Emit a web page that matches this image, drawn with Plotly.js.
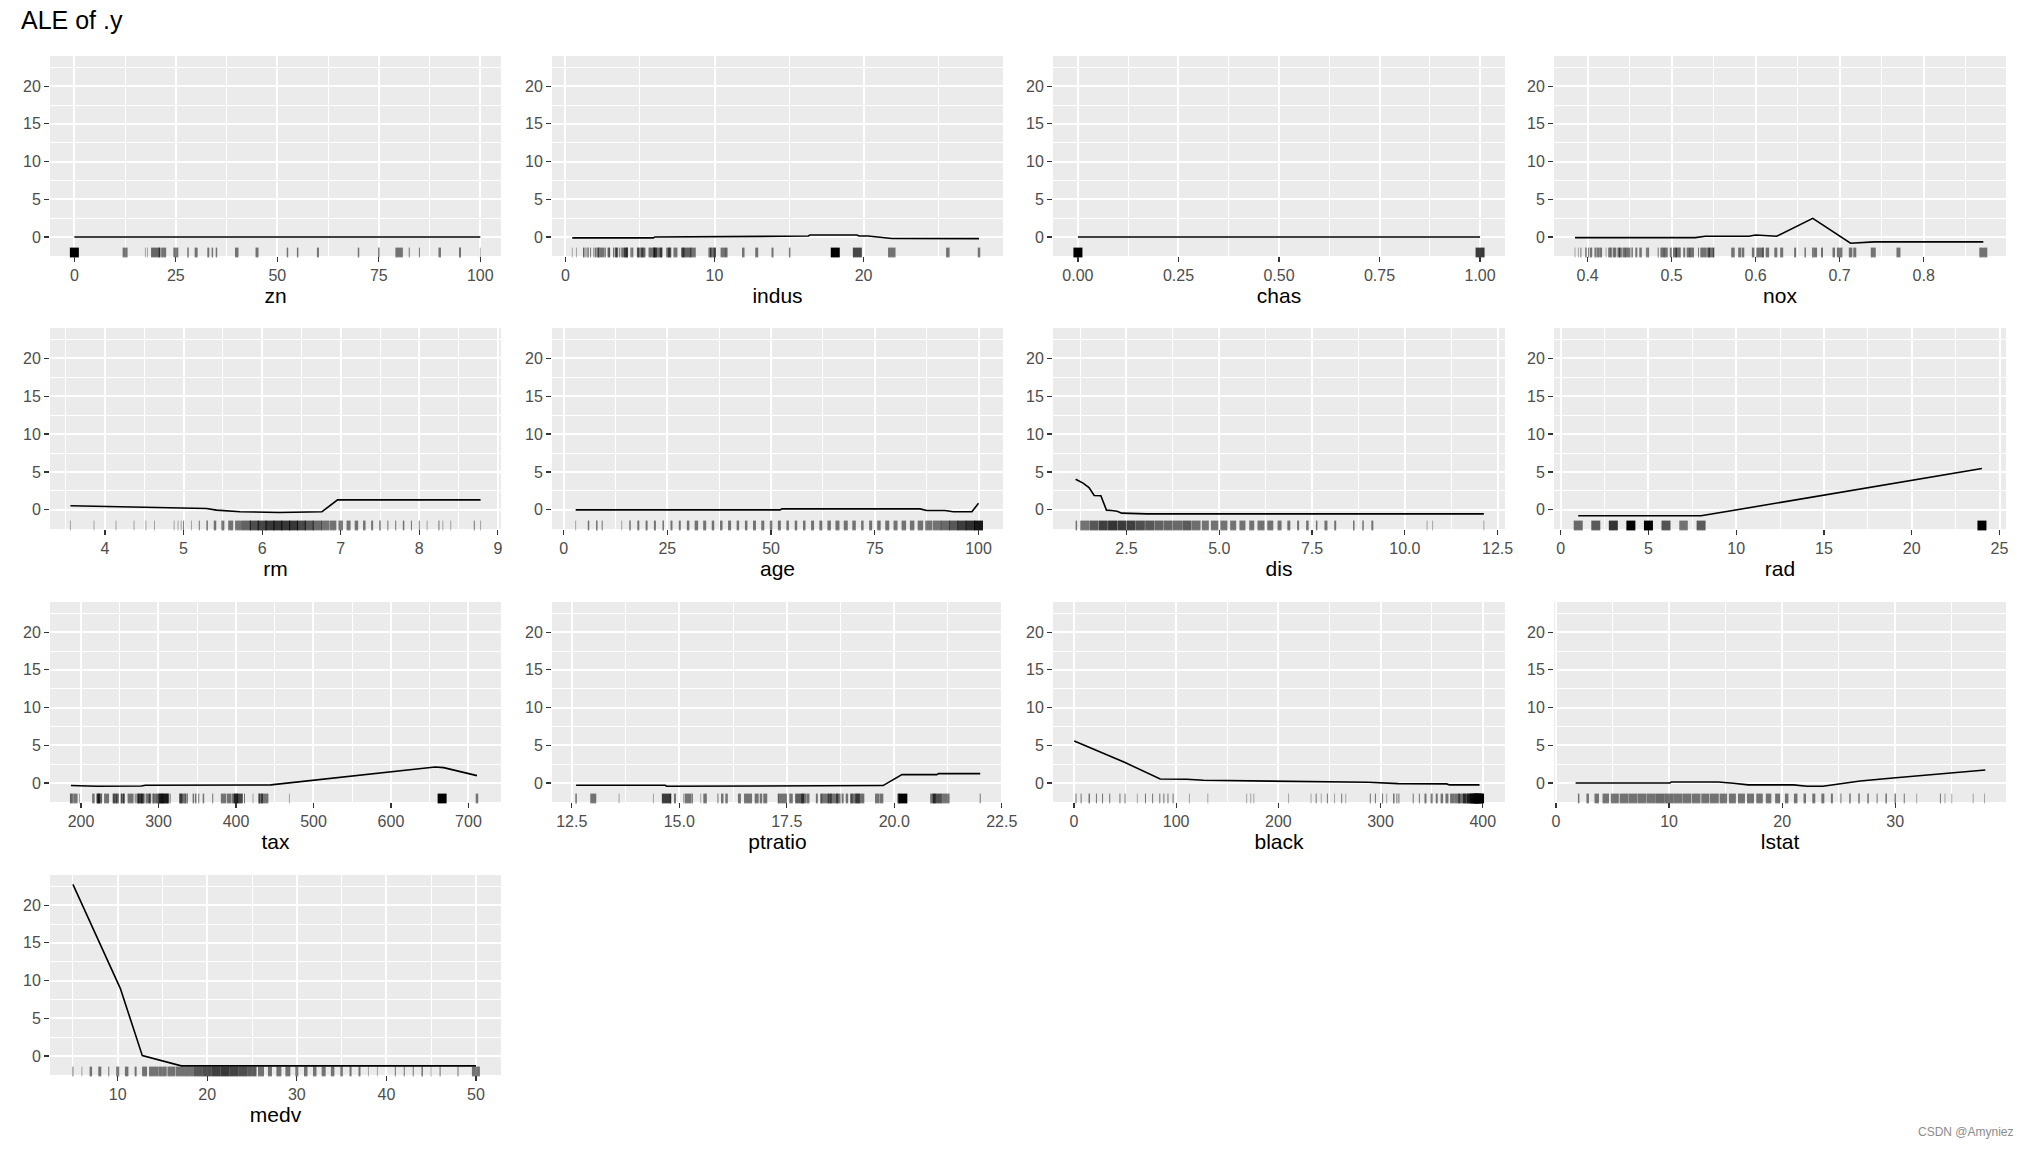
<!DOCTYPE html>
<html>
<head>
<meta charset="utf-8">
<script src="https://cdn.plot.ly/plotly-3.0.1.min.js"></script>
<style>
html,body{margin:0;padding:0;background:#ffffff;}
#chart{width:2028px;height:1149px;}
</style>
</head>
<body>
<div id="chart"></div>
<script>
// ---------------- DATA ----------------
const features = ['zn','indus','chas','nox','rm','age','dis','rad','tax','ptratio','black','lstat','medv'];

// ALE curves
const zn_x = [0, 100];
const zn_y = [0, 0];
const indus_x = [0.46, 5.9, 6.0, 14.5, 14.6, 16.3, 16.4, 19.55, 19.7, 20.3, 21.2, 21.9, 27.74];
const indus_y = [-0.13, -0.13, 0.0, 0.0, 0.09, 0.13, 0.26, 0.26, 0.13, 0.13, -0.04, -0.2, -0.22];
const chas_x = [0, 1];
const chas_y = [0, 0];
const nox_x = [0.385, 0.528, 0.540, 0.592, 0.600, 0.607, 0.615, 0.625, 0.668, 0.713, 0.741, 0.871];
const nox_y = [-0.09, -0.09, 0.09, 0.09, 0.26, 0.22, 0.09, 0.09, 2.47, -0.84, -0.66, -0.66];
const rm_x = [3.56, 4.0, 4.44, 5.0, 5.29, 5.42, 5.72, 6.22, 6.41, 6.76, 6.96, 8.78];
const rm_y = [0.53, 0.44, 0.35, 0.22, 0.18, -0.04, -0.26, -0.35, -0.35, -0.26, 1.32, 1.32];
const age_x = [2.9, 52.2, 52.6, 85.9, 87.5, 91.9, 93.9, 98.4, 100];
const age_y = [0, 0, 0.13, 0.13, -0.09, -0.09, -0.26, -0.26, 0.88];
const dis_x = [1.13, 1.33, 1.49, 1.63, 1.81, 1.96, 2.10, 2.25, 2.37, 3.04, 12.13];
const dis_y = [4.04, 3.52, 2.95, 1.89, 1.85, -0.04, -0.09, -0.18, -0.44, -0.53, -0.53];
const rad_x = [1, 2, 3, 4, 5, 6, 7, 8, 24];
const rad_y = [-0.79, -0.79, -0.79, -0.79, -0.79, -0.79, -0.79, -0.79, 5.45];
const tax_x = [187, 220, 278, 283, 445, 500, 601, 657, 668, 711];
const tax_y = [-0.35, -0.44, -0.40, -0.31, -0.26, 0.35, 1.46, 2.12, 2.03, 0.97];
const ptratio_x = [12.6, 14.67, 14.71, 19.21, 19.25, 19.74, 20.18, 20.99, 21.03, 22.0];
const ptratio_y = [-0.31, -0.31, -0.44, -0.44, -0.35, -0.35, 1.1, 1.1, 1.24, 1.24];
const black_x = [0.32, 50, 84.4, 110.5, 126.8, 162.7, 201.8, 247.4, 288.2, 317.5, 364.8, 367.4, 396.9];
const black_y = [5.56, 2.7, 0.53, 0.49, 0.35, 0.31, 0.22, 0.13, 0.09, -0.09, -0.13, -0.26, -0.26];
const lstat_x = [1.73, 10.08, 10.2, 14.35, 15.68, 17.0, 21.0, 22.2, 23.6, 25.3, 26.9, 29.8, 37.97];
const lstat_y = [0, 0, 0.13, 0.13, -0.04, -0.26, -0.26, -0.44, -0.44, -0.13, 0.26, 0.66, 1.72];
const medv_x = [5, 10.3, 12.75, 17.1, 50];
const medv_y = [22.76, 8.93, 0.04, -1.32, -1.32];

// Rug: observed feature values (or small bins) and how many rows fall there
const zn_rug = [0,12.5,17.5,18,20,21,22,25,28,30,33,34,35,40,45,52.5,55,60,70,75,80,82.5,85,90,95,100];
const zn_rugN = [372,10,1,1,21,4,10,10,3,6,4,3,3,7,6,3,3,4,3,3,15,2,2,5,4,1];
const indus_rug = [0.46,0.74,1.22,1.25,1.38,1.52,1.69,1.91,2.03,2.18,2.24,2.46,2.68,2.89,2.95,3.24,3.41,3.44,3.64,3.75,3.97,4.05,4.15,4.39,4.49,4.86,4.93,5.13,5.19,5.32,5.64,5.86,5.96,6.06,6.2,6.41,6.91,6.96,7.07,7.38,7.87,8.14,8.56,9.69,9.9,10.01,10.59,10.81,11.93,12.83,13.89,15.04,18.1,19.58,21.89,25.65,27.74];
const indus_rugN = [1,1,2,2,2,3,2,2,3,5,3,10,2,4,3,3,4,6,2,1,12,7,3,2,4,4,6,6,6,3,4,10,3,5,18,5,9,5,2,8,7,22,11,6,12,4,11,4,5,6,4,3,132,30,15,7,5];
const chas_rug = [0, 1];
const chas_rugN = [471, 35];
const nox_rug = [0.385,0.389,0.392,0.398,0.401,0.404,0.409,0.411,0.413,0.416,0.422,0.426,0.428,0.431,0.433,0.437,0.439,0.443,0.445,0.448,0.453,0.458,0.463,0.47,0.472,0.484,0.489,0.493,0.499,0.504,0.507,0.51,0.515,0.52,0.524,0.532,0.538,0.544,0.547,0.55,0.573,0.581,0.585,0.597,0.605,0.609,0.614,0.624,0.631,0.647,0.659,0.668,0.671,0.679,0.693,0.7,0.713,0.718,0.74,0.77,0.871];
const nox_rugN = [1,1,2,3,2,5,3,2,5,4,1,5,3,4,4,5,6,5,2,10,3,4,5,2,4,2,8,8,4,8,8,3,4,7,9,2,13,6,11,3,7,6,5,5,14,3,7,6,6,4,3,3,7,4,5,11,7,6,10,8,16];
const rm_rug = [3.56,3.86,4.14,4.37,4.52,4.63,4.88,4.93,4.97,5.0,5.1,5.2,5.3,5.4,5.5,5.6,5.7,5.8,5.9,6.0,6.1,6.2,6.3,6.4,6.5,6.6,6.7,6.8,6.9,7.0,7.1,7.2,7.3,7.4,7.5,7.6,7.7,7.8,7.9,8.0,8.1,8.25,8.3,8.4,8.7,8.78];
const rm_rugN = [1,1,1,1,1,1,1,1,1,2,1,2,3,5,6,10,14,22,28,32,36,38,36,36,30,24,20,16,14,9,8,7,5,4,3,2,2,3,2,2,1,2,1,1,2,1];
const age_rug = [2.9,6,8,9.3,14,16,18,20,22,24,26,28,30,32,34,36,38,40,42,44,46,48,50,52,54,56,58,60,62,64,66,68,70,72,74,76,78,80,82,84,86,88,90,92,94,96,98,100];
const age_rugN = [1,3,3,2,1,3,4,4,4,3,4,4,5,7,6,5,5,6,5,5,6,6,5,6,5,5,5,6,6,7,8,8,7,5,6,7,8,8,9,9,11,14,17,20,25,34,40,60];
const dis_rug = [1.15,1.375,1.625,1.875,2.125,2.375,2.625,2.875,3.125,3.375,3.625,3.875,4.125,4.375,4.625,4.875,5.125,5.375,5.625,5.875,6.125,6.375,6.625,6.875,7.125,7.375,7.625,7.875,8.125,8.625,8.875,9.125,10.6,10.75,12.13];
const dis_rugN = [3,18,25,33,38,35,33,27,25,22,21,20,24,19,14,15,14,12,12,10,14,12,8,6,4,5,3,6,4,3,3,4,1,1,1];
const rad_rug = [1,2,3,4,5,6,7,8,24];
const rad_rugN = [20,24,38,110,115,26,17,24,132];
const tax_rug = [187,188,193,198,216,222,223,224,226,233,241,242,243,245,247,252,254,255,264,270,273,276,277,279,281,284,287,289,293,296,300,304,305,307,311,313,315,329,330,334,335,337,345,348,352,358,370,384,391,398,402,403,411,422,430,432,437,469,666,711];
const tax_rugN = [1,7,8,1,5,7,5,10,1,10,1,2,4,6,6,2,8,3,12,2,5,9,11,4,4,2,8,5,3,8,7,14,3,40,7,1,2,6,10,3,2,3,3,3,2,3,2,11,8,12,3,30,2,1,3,9,15,1,132,5];
const ptratio_rug = [12.6,13.0,13.6,14.4,14.7,14.8,14.9,15.1,15.2,15.3,15.5,15.6,15.9,16.0,16.1,16.4,16.6,16.8,16.9,17.0,17.3,17.4,17.6,17.8,17.9,18.0,18.2,18.3,18.4,18.5,18.6,18.7,18.8,18.9,19.0,19.1,19.2,19.6,19.7,20.1,20.2,20.9,21.0,21.1,21.2,22.0];
const ptratio_rugN = [3,12,1,1,34,3,4,1,13,3,1,7,2,5,5,6,16,8,5,8,1,18,7,23,11,5,4,4,16,8,17,9,4,5,5,17,19,8,8,5,140,11,27,1,15,2];
const black_rug = [2,7,15,22,28,35,45,50,62,70,77,84,88,92,97,113,131,169,173,176,210,232,237,242,248,255,262,266,290,295,302,306,313,316,318,332,338,344,350,355,360,365,370,375,380,385,389,392,394,395.5,396.9];
const black_rugN = [2,2,3,2,2,2,2,2,1,2,2,2,2,2,2,1,1,1,1,1,1,1,2,1,2,1,2,1,2,2,2,1,3,2,2,2,2,4,4,4,5,6,8,12,16,25,30,40,45,60,121];
const lstat_rug = [2.0,2.8,3.6,4.4,5.2,6.0,6.8,7.6,8.4,9.2,10.0,10.8,11.6,12.4,13.2,14.0,14.8,15.6,16.4,17.2,18.0,18.8,19.6,20.4,21.2,22.0,22.8,23.6,24.4,25.2,26.0,26.8,27.6,28.4,29.2,30.0,30.8,31.9,34.0,34.4,35.0,36.9,37.9];
const lstat_rugN = [3,5,9,13,16,17,18,17,18,20,19,18,17,17,16,18,15,14,14,14,13,11,10,7,7,5,6,6,4,2,3,3,3,2,3,3,2,1,2,1,1,1,1];
const medv_rug = [5,6,7,8,9,10,11,12,13,14,15,16,17,18,19,20,21,22,23,24,25,26,27,28,29,30,31,32,33,34,35,36,37,38,39,41,42,43,44,45,46,48,50];
const medv_rugN = [2,1,5,6,2,6,7,4,10,18,17,16,18,18,25,28,33,36,32,28,24,12,8,10,10,6,7,7,8,7,5,4,4,1,1,2,2,2,3,1,2,2,16];

const yTickVals = [0, 5, 10, 15, 20];

// ---------------- STYLE / LAYOUT SETTINGS ----------------
const curves = {
  zn:[zn_x,zn_y,zn_rug,zn_rugN], indus:[indus_x,indus_y,indus_rug,indus_rugN],
  chas:[chas_x,chas_y,chas_rug,chas_rugN], nox:[nox_x,nox_y,nox_rug,nox_rugN],
  rm:[rm_x,rm_y,rm_rug,rm_rugN], age:[age_x,age_y,age_rug,age_rugN],
  dis:[dis_x,dis_y,dis_rug,dis_rugN], rad:[rad_x,rad_y,rad_rug,rad_rugN],
  tax:[tax_x,tax_y,tax_rug,tax_rugN], ptratio:[ptratio_x,ptratio_y,ptratio_rug,ptratio_rugN],
  black:[black_x,black_y,black_rug,black_rugN], lstat:[lstat_x,lstat_y,lstat_rug,lstat_rugN],
  medv:[medv_x,medv_y,medv_rug,medv_rugN]
};
// axis ranges (ggplot expanded limits) and tick spacing
const axisCfg = {
  zn:{range:[-6,105.1], tick0:0, dtick:25, fmt:''},
  indus:{range:[-0.9,29.35], tick0:0, dtick:10, fmt:''},
  chas:{range:[-0.062,1.062], tick0:0, dtick:0.25, fmt:'.2f'},
  nox:{range:[0.36,0.898], tick0:0, dtick:0.1, fmt:'.1f'},
  rm:{range:[3.30,9.04], tick0:0, dtick:1, fmt:''},
  age:{range:[-2.8,105.9], tick0:0, dtick:25, fmt:''},
  dis:{range:[0.52,12.7], tick0:0, dtick:2.5, fmt:'.1f'},
  rad:{range:[-0.38,25.37], tick0:0, dtick:5, fmt:''},
  tax:{range:[160,742], tick0:0, dtick:100, fmt:''},
  ptratio:{range:[12.04,22.53], tick0:0, dtick:2.5, fmt:'.1f'},
  black:{range:[-20.5,421.8], tick0:0, dtick:100, fmt:''},
  lstat:{range:[-0.18,39.8], tick0:0, dtick:10, fmt:''},
  medv:{range:[2.44,52.8], tick0:0, dtick:10, fmt:''}
};
const yRange = [-2.53, 24.0];

const W = 2028, H = 1149;
const colPx = [[50,501],[552,1003],[1053,1505],[1554,2006]];
const rowPx = [[56,256],[328,529],[602,802],[875,1075]];
const FONT = 'Liberation Sans, Arial, sans-serif';
const rugLen = 7;      // px
const rugAlpha = 0.3;
const jitterPx = 9;

const traces = [];
const layout = {
  width: W, height: H,
  margin: {l:0, r:0, t:0, b:0, pad:0},
  paper_bgcolor: '#FFFFFF',
  plot_bgcolor: '#EBEBEB',
  showlegend: false,
  font: {family: FONT, color: '#000000'},
  title: {
    text: 'ALE of .y',
    font: {family: FONT, size: 25, color: '#000000'},
    xref: 'container', yref: 'container',
    x: 21/W, xanchor: 'left',
    y: 1 - 11/H, yanchor: 'top'
  },
  annotations: [{
    text: 'CSDN @Amyniez', xref: 'paper', yref: 'paper',
    x: 2016/W, xanchor: 'right', y: 1 - 1132/H, yanchor: 'middle',
    showarrow: false, font: {family: FONT, size: 12, color: '#8c8c8c'}
  }]
};

features.forEach((f, i) => {
  const r = Math.floor(i / 4), c = i % 4;
  const sfx = i === 0 ? '' : String(i + 1);
  const [lx, ly, rug, rugN] = curves[f];
  const cfg = axisCfg[f];
  const rowH = rowPx[r][1] - rowPx[r][0];
  const rugY = yRange[0] + (rugLen / 2) / rowH * (yRange[1] - yRange[0]);

  // rug
  const widths = rugN.map(n => Math.min(jitterPx, Math.max(1, n / 2)));
  const ops = rugN.map((n, k) => Math.min(1, 1 - Math.pow(1 - rugAlpha, n / widths[k])));
  traces.push({
    type: 'scatter', mode: 'markers', x: rug, y: rug.map(() => rugY),
    xaxis: 'x' + sfx, yaxis: 'y' + sfx, hoverinfo: 'skip', cliponaxis: false,
    marker: {symbol: 'line-ns', size: rugLen, opacity: ops,
             line: {color: '#000000', width: widths}}
  });
  // ALE line
  traces.push({
    type: 'scatter', mode: 'lines', x: lx, y: ly,
    xaxis: 'x' + sfx, yaxis: 'y' + sfx, hoverinfo: 'skip',
    line: {color: '#000000', width: 1.6}
  });

  const common = {
    showline: false, zeroline: false, showgrid: true,
    gridcolor: '#FFFFFF', gridwidth: 2,
    ticks: 'outside', ticklen: 5, tickwidth: 1.2, tickcolor: '#333333',
    tickfont: {family: FONT, size: 16, color: '#4D4D4D'},
    fixedrange: true, automargin: false
  };
  layout['xaxis' + sfx] = Object.assign({}, common, {
    domain: [colPx[c][0] / W, colPx[c][1] / W],
    anchor: 'y' + sfx,
    range: cfg.range,
    tickmode: 'linear', tick0: cfg.tick0, dtick: cfg.dtick, tickformat: cfg.fmt,
    minor: {tick0: cfg.tick0, dtick: cfg.dtick / 2, showgrid: true, gridcolor: '#FFFFFF', gridwidth: 1},
    title: {text: f, font: {family: FONT, size: 21, color: '#000000'}, standoff: 5}
  });
  layout['yaxis' + sfx] = Object.assign({}, common, {
    domain: [1 - rowPx[r][1] / H, 1 - rowPx[r][0] / H],
    anchor: 'x' + sfx,
    range: yRange,
    tickmode: 'array', tickvals: yTickVals,
    minor: {tick0: -2.5, dtick: 5, showgrid: true, gridcolor: '#FFFFFF', gridwidth: 1}
  });
});

Plotly.newPlot('chart', traces, layout, {staticPlot: true, displayModeBar: false});
</script>
</body>
</html>
